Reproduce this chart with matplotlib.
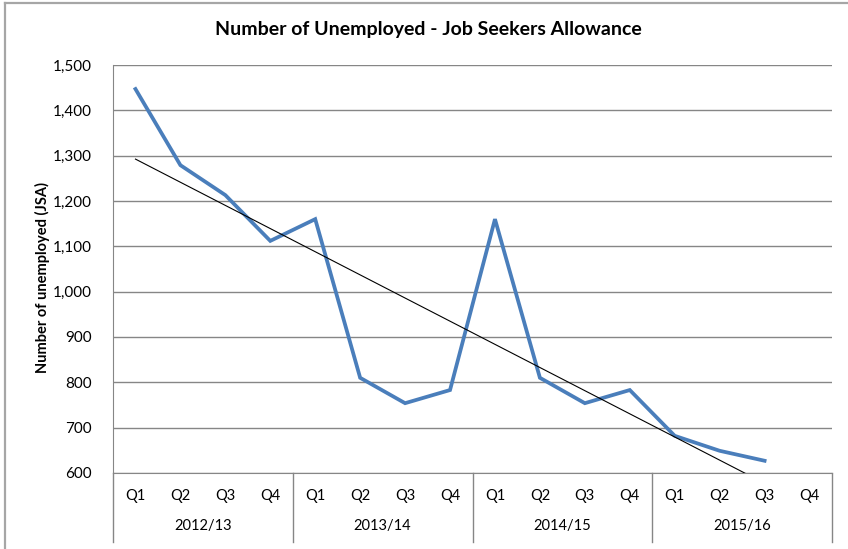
import numpy as np
import matplotlib.pyplot as plt
from matplotlib.lines import Line2D

plt.rcParams['font.family'] = ['Lato', 'DejaVu Sans']

quarters = ["Q1", "Q2", "Q3", "Q4"]
years = ["2012/13", "2013/14", "2014/15", "2015/16"]
jsa = [1447, 1279, 1213, 1112, 1160, 810, 754, 783,
       1160, 810, 754, 783, 682, 649, 627]
yticks = [600, 700, 800, 900, 1000, 1100, 1200, 1300, 1400, 1500]

W, H = 848, 549
fig = plt.figure(figsize=(W / 100, H / 100), dpi=100)
ax = fig.add_axes([113 / W, (H - 473) / H, 719 / W, 408 / H])

grid_c = "#868686"
x = np.arange(len(jsa))
ax.plot(x, jsa, color="#4a7ebb", lw=2.7, solid_joinstyle="miter", zorder=3)

# linear trendline (Excel style), clipped by the axes
k, b = np.polyfit(x, jsa, 1)
ax.plot(x, k * x + b, color="black", lw=0.8, zorder=4)

ax.set_xlim(-0.5, len(quarters) * len(years) - 0.5)
ax.set_ylim(600, 1500)
ax.set_yticks(yticks)
ax.set_yticklabels(["{:,}".format(v) for v in yticks], fontsize=11)
ax.tick_params(axis="y", length=0, pad=15)
ax.set_xticks([])
for s in ["top", "right"]:
    ax.spines[s].set_visible(False)
ax.spines["left"].set_color(grid_c)
ax.spines["bottom"].set_color(grid_c)
ax.yaxis.grid(True, color=grid_c, lw=1)
ax.set_axisbelow(True)

# two-level category axis
tr = ax.get_xaxis_transform()
for i, yr in enumerate(years):
    for j, q in enumerate(quarters):
        ax.text(i * 4 + j, -0.056, q, transform=tr, ha="center", va="center",
                fontsize=10.5)
    ax.text(i * 4 + 1.5, -0.13, yr, transform=tr, ha="center", va="center",
            fontsize=10.5)
for i in range(len(years) + 1):
    ax.plot([i * 4 - 0.5] * 2, [0, -0.17], transform=tr, color=grid_c, lw=1,
            clip_on=False)

ax.set_ylabel("Number of unemployed (JSA)", fontsize=10.5, fontweight="bold",
              va="center")
ax.yaxis.set_label_coords(-71 / 719, 0.48)
fig.text(428 / W, 1 - 30 / H, "Number of Unemployed - Job Seekers Allowance",
         ha="center", va="center", fontsize=14, fontweight="bold")

# chart border
bc = "#a6a6a6"
fig.add_artist(Line2D([5 / W, 5 / W], [0, 1 - 3 / H], color=bc, lw=1.6))
fig.add_artist(Line2D([5 / W, 1], [1 - 3 / H, 1 - 3 / H], color=bc, lw=1.6))

fig.savefig("out.png", dpi=100)
